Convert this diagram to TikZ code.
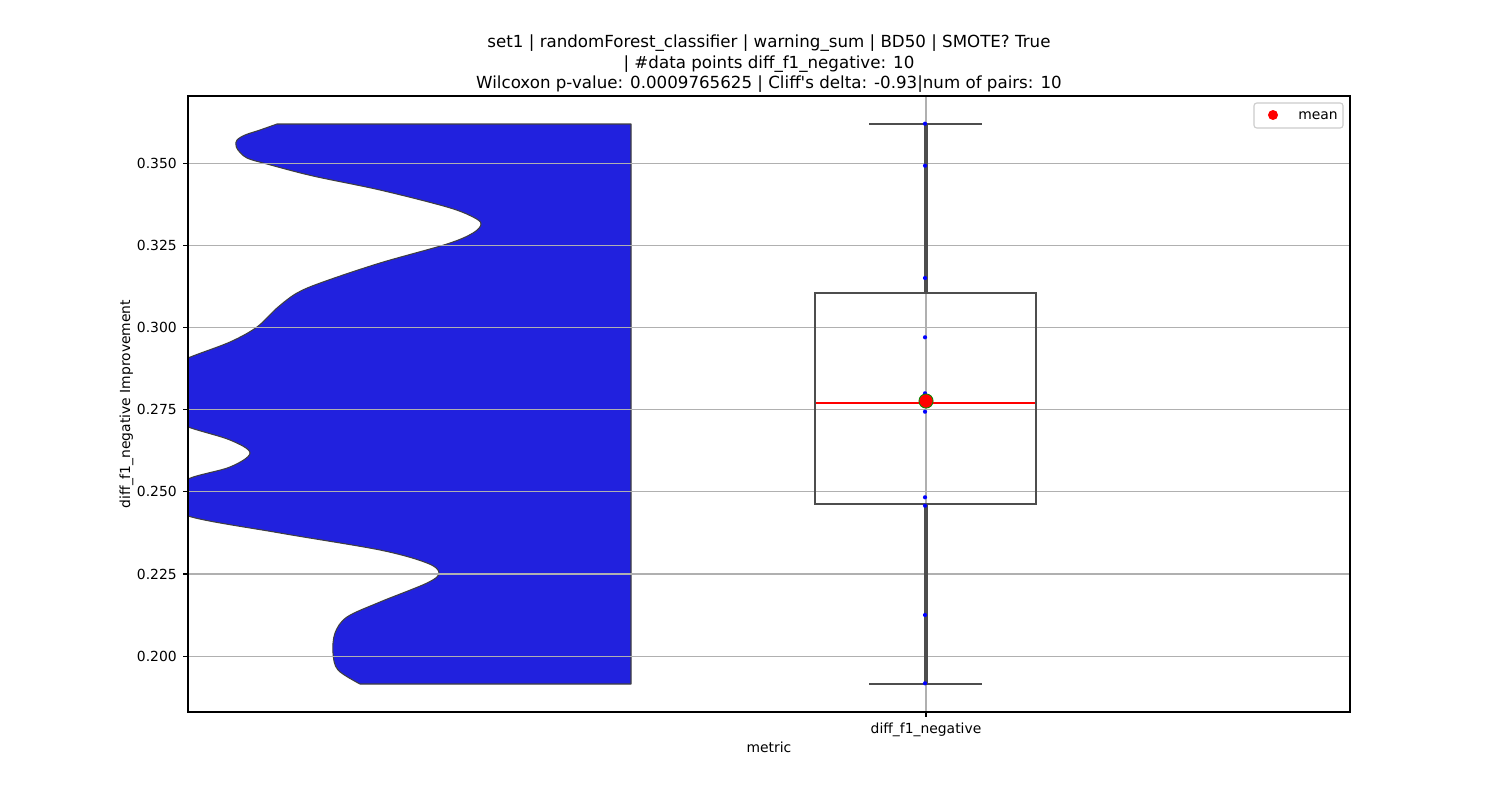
\documentclass[tikz,border=0pt]{standalone}
\usepackage{fontspec}
\setmainfont{DejaVu Sans}[Ligatures=TeXOff]
\definecolor{violinblue}{RGB}{33,33,222}
\definecolor{outlinegray}{RGB}{63,63,63}
\definecolor{gridgray}{RGB}{176,176,176}
\definecolor{boxgray}{RGB}{77,77,77}
\definecolor{legendedge}{RGB}{204,204,204}
\tikzset{
  ticklbl/.style={inner sep=0pt, font=\fontsize{10bp}{12bp}\selectfont},
  titlelbl/.style={inner sep=0pt, anchor=base, font=\fontsize{12bp}{14bp}\selectfont},
  gridline/.style={draw=gridgray, line width=0.8bp},
  boxline/.style={draw=boxgray, line width=1.5bp},
  whiskerline/.style={draw=boxgray, line width=2.2bp},
  stripdot/.style={fill=blue},
  tickmark/.style={draw=black, line width=0.8bp},
}
\begin{document}
\begin{tikzpicture}[x=0.72bp, y=-0.72bp]
\useasboundingbox[fill=white] (0,0) rectangle (1500,800);
% violin
\begin{scope}
\clip (188,96) rectangle (1350,712);
\draw[fill=violinblue, draw=outlinegray, line width=0.75bp, line join=round]
  (631,124) -- (277,124) -- plot[smooth, tension=0.55] coordinates {
  (277,124) (260,130) (245,135) (237,140) (236,145) (238,150) (247,158)
  (267,164) (313,176) (380,190) (447,207) (473,217) (481,224) (473,233)
  (447,244) (380,263) (323,282) (297,293) (277,308) (257,327) (230,342)
  (188,358) (152,375) (135,393) (152,412) (188,427) (230,440) (250,453)
  (230,467) (188,479) (165,497) (188,516) (280,533) (380,550) (427,563)
  (439,573) (427,583) (380,602) (347,617) (335,633) (333,653) (338,670)
  (360,684)} -- (631,684) -- cycle;
% grid
\foreach \yy in {163.3,245.4,327.5,409.4,491.3,574.0,656.3}
  \draw[gridline] (188,\yy) -- (1350,\yy);
\draw[gridline] (926,96) -- (926,712);
\end{scope}
% box plot
\draw[boxline] (814.7,292.7) rectangle (1036,503.7);
\draw[whiskerline] (926,292.7) -- (926,123.7);
\draw[whiskerline] (926,503.7) -- (926,683.7);
\draw[boxline] (869,123.7) -- (981.7,123.7);
\draw[boxline] (869,683.7) -- (981.7,683.7);
\draw[draw=red, line width=1.5bp] (816,402.7) -- (1035,402.7);
% strip points
\foreach \yy in {123.7,165.7,278,337.3,393.3,411.7,497.3,505.7,615,683.3}
  \fill[stripdot] (925,\yy) circle (1.5bp);
% mean
\draw[fill=red, draw=green!55!black, line width=0.6bp] (926,401) circle (5.1bp);
% axes frame
\draw[line width=0.8bp] (188,96) rectangle (1350,712);
% y ticks
\foreach \yy/\lab in {163.3/0.350,245.4/0.325,327.5/0.300,409.4/0.275,491.3/0.250,574.0/0.225,656.3/0.200}{
  \draw[tickmark] (183.1,\yy) -- (188,\yy);
  \node[ticklbl, anchor=east] at (177,\yy) {\lab};
}
\draw[tickmark] (926,712) -- (926,716.9);
\node[ticklbl, anchor=base] (xtick) at (926,733) {diff\_f1\_negative};
\node[ticklbl, anchor=base] (xlabel) at (769,752) {metric};
\node[ticklbl, anchor=base, rotate=90] (ylabel) at (130,404) {diff\_f1\_negative Improvement};
% title
\node[titlelbl] (t1) at (769,47.5) {set1 | randomForest\_classifier | warning\_sum | BD50 | SMOTE? True};
\node[titlelbl] (t2) at (769,68) {| \#data points diff\_f1\_negative: 10};
\node[titlelbl] (t3) at (769,88.5) {Wilcoxon p-value: 0.0009765625 | Cliff's delta: -0.93|num of pairs: 10};
% legend
\draw[draw=legendedge, fill=white, line width=0.8bp, rounded corners=2bp] (1254,103) rectangle (1343,128);
\fill[red] (1273,115) circle (3.6bp);
\node[ticklbl, anchor=base west] (legtext) at (1298,119.5) {mean};
\end{tikzpicture}
\end{document}
